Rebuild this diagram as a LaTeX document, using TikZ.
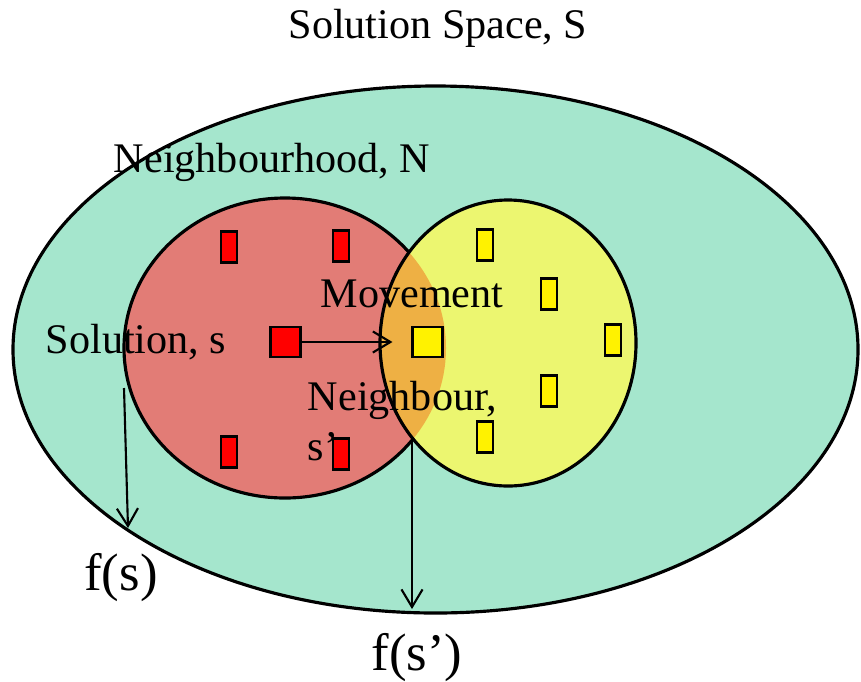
\documentclass[tikz,border=0pt]{standalone}
\usepackage{fontspec}
\setmainfont{Liberation Serif}
\usetikzlibrary{arrows.meta}
\definecolor{spacefill}{RGB}{165,230,205}
\definecolor{hoodfill}{RGB}{226,124,118}
\definecolor{nextfill}{RGB}{236,246,112}
\definecolor{overlapfill}{RGB}{238,176,68}
\begin{document}
\begin{tikzpicture}[
  lbl/.style={font=\fontsize{12}{14.4}\selectfont, inner sep=0pt},
  biglbl/.style={font=\fontsize{15}{18}\selectfont, inner sep=0pt},
  cand/.style={draw=black, line width=0.6pt, minimum width=0.16cm, minimum height=0.31cm, inner sep=0pt},
  cur/.style={draw=black, line width=0.6pt, minimum size=0.30cm, inner sep=0pt},
  arr/.style={-{Straight Barb[length=5pt,width=6pt]}, line width=0.6pt, black}]
  \useasboundingbox (0,0) rectangle (8.61,-6.81);
  % solution space and neighbourhoods
  \filldraw [fill=spacefill, line width=0.9pt] (4.355,-3.495) ellipse (4.225cm and 2.635cm);
  \filldraw [fill=hoodfill, line width=0.9pt] (2.85,-3.48) ellipse (1.61cm and 1.5cm);
  \fill [nextfill] (5.08,-3.43) ellipse (1.28cm and 1.43cm);
  \begin{scope}
    \clip (2.85,-3.48) ellipse (1.61cm and 1.5cm);
    \fill [overlapfill] (5.08,-3.43) ellipse (1.28cm and 1.43cm);
  \end{scope}
  \draw [line width=0.9pt] (5.08,-3.43) ellipse (1.28cm and 1.43cm);
  % candidate solutions
  \node [cand, fill=red] (r1) at (2.29,-2.47) {};
  \node [cand, fill=red] (r2) at (3.41,-2.46) {};
  \node [cand, fill=red] (r3) at (2.29,-4.52) {};
  \node [cand, fill=red] (r4) at (3.41,-4.54) {};
  \node [cand, fill=yellow] (y1) at (4.85,-2.45) {};
  \node [cand, fill=yellow] (y2) at (5.49,-2.94) {};
  \node [cand, fill=yellow] (y3) at (6.13,-3.40) {};
  \node [cand, fill=yellow] (y4) at (5.49,-3.91) {};
  \node [cand, fill=yellow] (y5) at (4.85,-4.37) {};
  \node [cur, fill=red] (sol) at (2.855,-3.42) {};
  \node [cur, fill=yellow] (nbr) at (4.275,-3.42) {};
  % labels
  \node [lbl] (title) at (4.38,-0.28) {Solution Space, S};
  \node [lbl] (hood) at (2.72,-1.62) {Neighbourhood, N};
  \node [lbl] (move) at (4.12,-2.94) {Movement};
  \node [lbl] (soltext) at (1.36,-3.42) {Solution, s};
  \node [lbl, align=left] (nbrtext) at (4.025,-4.21) {Neighbour,\\s’};
  \node [biglbl] (fs) at (1.21,-5.78) {f(s)};
  \node [biglbl] (fsp) at (4.17,-6.58) {f(s’)};
  % arrows
  \coordinate (fsfrom) at (1.24,-3.88);
  \coordinate (fsto) at (1.28,-5.28);
  \coordinate (cross) at (4.12,-4.38);
  \coordinate (fspto) at (4.12,-6.09);
  \draw [arr, shorten >=0.19cm] (sol) -- (nbr);
  \draw [arr] (fsfrom) -- (fsto);
  \draw [arr] (cross) -- (fspto);
\end{tikzpicture}
\end{document}
